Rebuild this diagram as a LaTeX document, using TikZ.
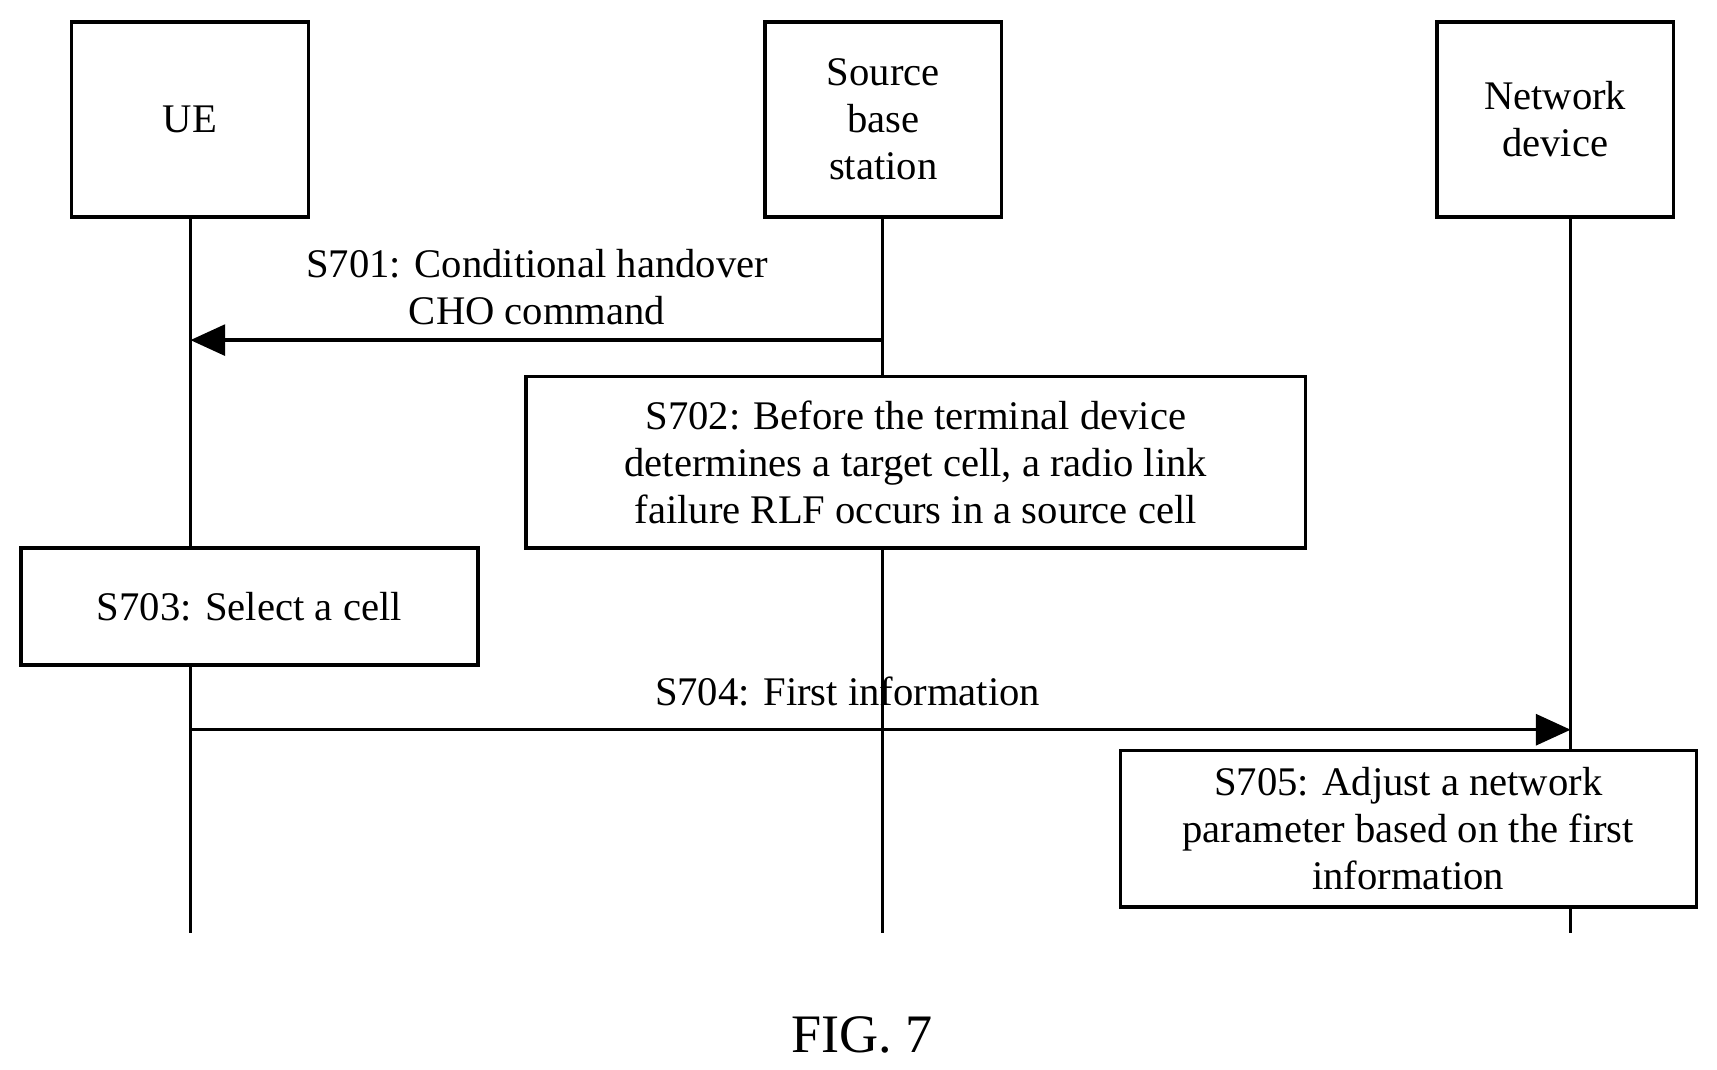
\documentclass[tikz,border=0pt]{standalone}
\usepackage{fontspec}
\setmainfont{Liberation Serif}
\usetikzlibrary{positioning,arrows.meta}

\begin{document}
\begin{tikzpicture}[x=0.01cm,y=-0.01cm,
    every node/.style={font=\fontsize{10.5}{12.2}\selectfont},
    entity/.style={draw,line width=0.9pt,fill=white,minimum width=2.15cm,minimum height=1.77cm,align=center,inner sep=0pt},
    stepbox/.style={draw,line width=0.9pt,fill=white,align=center,inner sep=0pt},
    life/.style={line width=0.9pt},
    msg/.style={line width=0.9pt,-{Triangle[length=9pt,width=8pt]}}]
  \useasboundingbox (0,0) rectangle (1560,972);

  % lifelines
  \coordinate (ueEnd)  at (173,848);
  \coordinate (srcEnd) at (802,848);
  \coordinate (netEnd) at (1427,848);
  \draw[life] (173,197) -- (ueEnd);
  \draw[life] (802,197) -- (srcEnd);
  \draw[life] (1427,197) -- (netEnd);

  % entities
  \node[entity] (ue)  at (172.5,108.5) {UE};
  \node[entity] (src) at (802.5,108.5) {Source\\base\\station};
  \node[entity] (net) at (1413,108.5) {Network\\device};

  % messages
  \coordinate (m1s) at (802,309);
  \coordinate (m1e) at (173,309);
  \draw[msg] (m1s) -- (m1e);
  \node[align=center] (l701) at (488,261) {S701: Conditional handover\\CHO command};

  \node[stepbox,minimum width=7.08cm,minimum height=1.56cm] (s702) at (832,420)
    {S702: Before the terminal device\\determines a target cell, a radio link\\failure RLF occurs in a source cell};
  \node[stepbox,minimum width=4.15cm,minimum height=1.06cm] (s703) at (226.5,551) {S703: Select a cell};

  \coordinate (m4s) at (173,663);
  \coordinate (m4e) at (1427,663);
  \draw[msg] (m4s) -- (m4e);
  \node (l704) at (770,628) {S704: First information};

  \node[stepbox,minimum width=5.23cm,minimum height=1.42cm] (s705) at (1279.5,753)
    {S705: Adjust a network\\parameter based on the first\\information};

  \node[font=\fontsize{14}{16}\selectfont] (fig) at (783,940) {FIG. 7};
\end{tikzpicture}
\end{document}
